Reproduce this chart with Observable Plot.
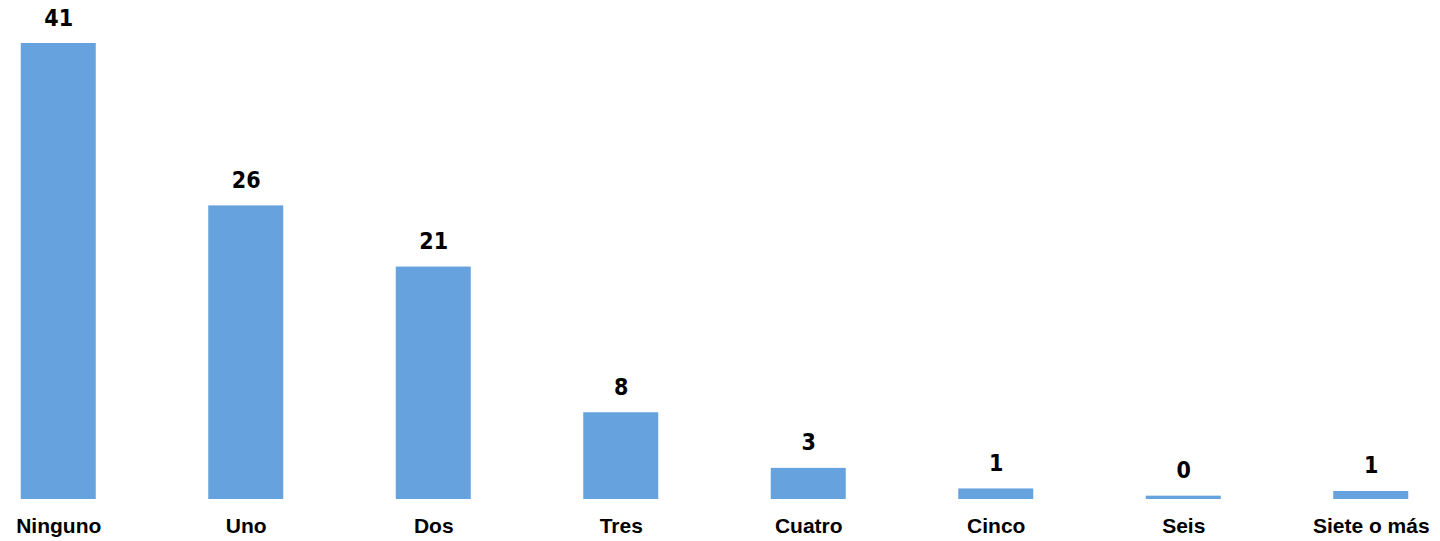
<!DOCTYPE html>
<html>
<head>
<meta charset="utf-8">
<script src="https://cdn.jsdelivr.net/npm/d3@7"></script>
<script src="https://cdn.jsdelivr.net/npm/@observablehq/plot@0.6"></script>
<style>
  html, body { margin: 0; padding: 0; background: #fff; }
  #chart svg { display: block; }
  .vlabel text { font-stretch: condensed; }
</style>
</head>
<body>
<div id="chart"></div>
<script>
const categories = ["Ninguno", "Uno", "Dos", "Tres", "Cuatro", "Cinco", "Seis", "Siete o más"];
const values = [41, 26.4, 20.9, 7.8, 2.8, 0.95, 0.3, 0.72];
const valueLabels = ["41", "26", "21", "8", "3", "1", "0", "1"];

const data = categories.map((c, i) => ({category: c, value: values[i], label: valueLabels[i]}));

const chart = Plot.plot({
  width: 1440,
  height: 541,
  marginLeft: 2,
  marginRight: 13,
  marginTop: 43,
  marginBottom: 42,
  x: {domain: categories, paddingInner: 0.6, paddingOuter: 0.1, round: false, label: null},
  y: {domain: [0, 41], axis: null},
  marks: [
    Plot.barY(data, {x: "category", y: "value", fill: "#66a2de"}),
    Plot.text(data, {
      x: "category", y: "value", text: "label",
      lineAnchor: "bottom", dy: -18,
      fontSize: 23, fontWeight: "bold",
      fontFamily: "'DejaVu Sans', sans-serif",
      fill: "#000",
      className: "vlabel"
    }),
    Plot.axisX({
      tickSize: 0, tickPadding: 19, fontSize: 21, fontWeight: "bold",
      fontFamily: "'Liberation Sans', Arial, sans-serif", fill: "#000", label: null
    })
  ],
  style: {background: "#fff", color: "#000", fontFamily: "'Liberation Sans', Arial, sans-serif"}
});
document.getElementById("chart").appendChild(chart);
</script>
</body>
</html>
